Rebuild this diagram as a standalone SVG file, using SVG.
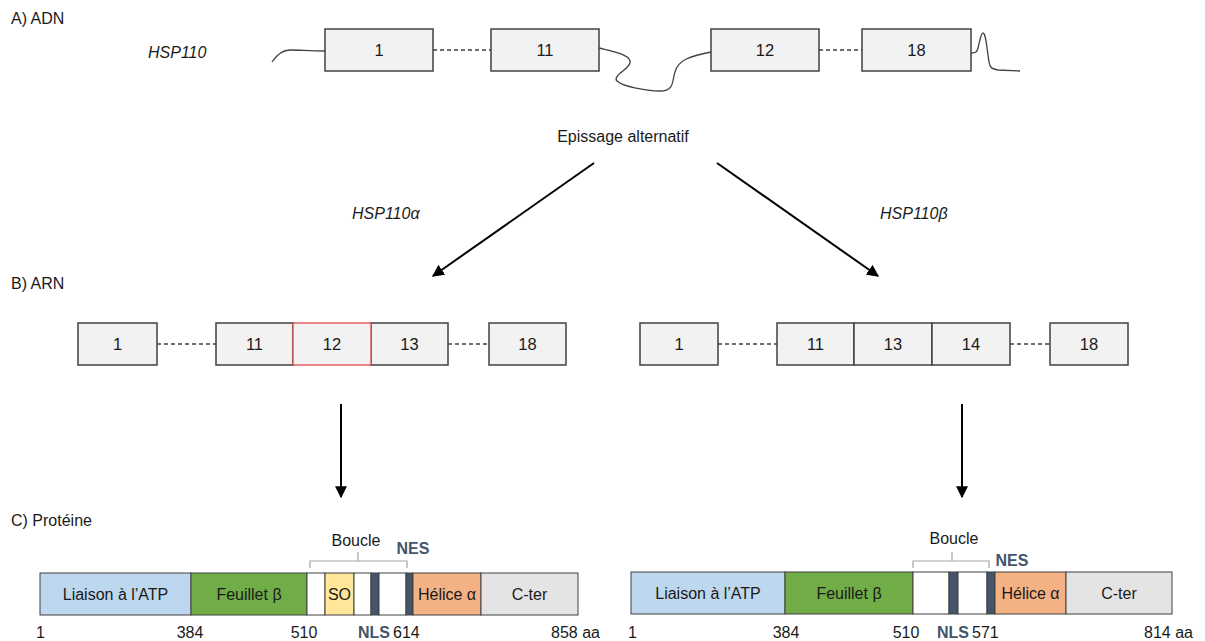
<svg xmlns="http://www.w3.org/2000/svg" width="1205" height="641" viewBox="0 0 1205 641">
<defs>
<style>
text{font-family:"Liberation Sans",Arial,sans-serif;font-size:16px;fill:#1a1a1a}
.c{text-anchor:middle}
.e{text-anchor:end}
.it{font-style:italic}
.num{font-size:16.5px}
.ex{fill:#F2F2F2;stroke:#404040;stroke-width:1.5}
.red{fill:#F2F2F2;stroke:#E03C3C;stroke-width:1.2}
.dash{stroke:#404040;stroke-width:1.4;stroke-dasharray:4 3;fill:none}
.wire{stroke:#404040;stroke-width:1.3;fill:none}
.arr{stroke:#000;stroke-width:2;fill:none;marker-end:url(#ah)}
.seg{stroke:#404040;stroke-width:1}
.dk{fill:#44546A}
.bl{font-weight:bold;fill:#44546A;font-size:16px}
.br{stroke:#A6A6A6;stroke-width:1.2;fill:none}
</style>
<marker id="ah" viewBox="0 0 10 10" refX="9" refY="5" markerWidth="6" markerHeight="6" orient="auto" markerUnits="strokeWidth">
<path d="M0,0 L10,5 L0,10 Z" fill="#000"/>
</marker>
</defs>
<rect width="1205" height="641" fill="#fff"/>

<g id="titles">
<text x="11" y="24">A) ADN</text>
<text x="11" y="289">B) ARN</text>
<text x="11" y="526">C) Protéine</text>
</g>

<g id="connectors">
<path class="wire" d="M272,62 C278,53 284,50 290,50 C300,50 310,51 325,51"/>
<line class="dash" x1="433" y1="50" x2="491" y2="50"/>
<path class="wire" d="M599,48 C615,52 632,55 630,63 C628,70 612,76 617,81 C622,86 645,91 660,91 C675,91 672,80 675,72 C678,60 690,56 711,52"/>
<line class="dash" x1="819" y1="50" x2="862" y2="50"/>
<path class="wire" d="M971,53 C976,53 977,52 978,48 C980,40 981,33 983,33 C986,33 987,50 989,62 C990,68 992,69 998,70 L1020,71"/>
<line class="arr" x1="594" y1="163" x2="433" y2="276"/>
<line class="arr" x1="717" y1="163" x2="878" y2="276"/>
<line class="dash" x1="157" y1="344" x2="216" y2="344"/>
<line class="dash" x1="448" y1="344" x2="489" y2="344"/>
<line class="dash" x1="718" y1="344" x2="777" y2="344"/>
<line class="dash" x1="1010" y1="344" x2="1050" y2="344"/>
<line class="arr" x1="341" y1="404" x2="341" y2="497"/>
<line class="arr" x1="962" y1="404" x2="962" y2="497"/>
</g>

<g id="dna">
<text class="it" x="148" y="58">HSP110</text>
<g id="dna-ex1"><rect class="ex" x="325" y="29" width="108" height="42"/><text class="c num" x="379" y="56">1</text></g>
<g id="dna-ex11"><rect class="ex" x="491" y="29" width="108" height="42"/><text class="c num" x="545" y="56">11</text></g>
<g id="dna-ex12"><rect class="ex" x="711" y="29" width="108" height="42"/><text class="c num" x="765" y="56">12</text></g>
<g id="dna-ex18"><rect class="ex" x="862" y="29" width="109" height="42"/><text class="c num" x="916.5" y="56">18</text></g>
</g>

<g id="splice">
<text class="c" x="623" y="142">Epissage alternatif</text>
<text class="it" x="352" y="219">HSP110α</text>
<text class="it" x="880" y="219">HSP110β</text>
</g>

<g id="rna-alpha">
<g id="ra1"><rect class="ex" x="78" y="323" width="79" height="42"/><text class="c num" x="117.5" y="350">1</text></g>
<g id="ra11"><rect class="ex" x="216" y="323" width="77" height="42"/><text class="c num" x="254.5" y="350">11</text></g>
<g id="ra13"><rect class="ex" x="371" y="323" width="77" height="42"/><text class="c num" x="409.5" y="350">13</text></g>
<g id="ra12"><rect class="red" x="293" y="323" width="78" height="42"/><text class="c num" x="332" y="350">12</text></g>
<g id="ra18"><rect class="ex" x="489" y="323" width="77" height="42"/><text class="c num" x="527.5" y="350">18</text></g>
</g>

<g id="rna-beta">
<g id="rb1"><rect class="ex" x="640" y="323" width="78" height="42"/><text class="c num" x="679" y="350">1</text></g>
<g id="rb11"><rect class="ex" x="777" y="323" width="77" height="42"/><text class="c num" x="815.5" y="350">11</text></g>
<g id="rb13"><rect class="ex" x="854" y="323" width="78" height="42"/><text class="c num" x="893" y="350">13</text></g>
<g id="rb14"><rect class="ex" x="932" y="323" width="78" height="42"/><text class="c num" x="971" y="350">14</text></g>
<g id="rb18"><rect class="ex" x="1050" y="323" width="78" height="42"/><text class="c num" x="1089" y="350">18</text></g>
</g>

<g id="protein-alpha">
<rect class="seg" x="40" y="573" width="151" height="42" fill="#BDD7EE"/>
<rect class="seg" x="191" y="573" width="116" height="42" fill="#70AD47"/>
<rect class="seg" x="307" y="573" width="18" height="42" fill="#fff"/>
<rect class="seg" x="325" y="573" width="29" height="42" fill="#FFE699"/>
<rect class="seg" x="354" y="573" width="17" height="42" fill="#fff"/>
<rect class="seg dk" x="371" y="573" width="8" height="42"/>
<rect class="seg" x="379" y="573" width="27" height="42" fill="#fff"/>
<rect class="seg dk" x="406" y="573" width="7" height="42"/>
<rect class="seg" x="413" y="573" width="68" height="42" fill="#F4B183"/>
<rect class="seg" x="481" y="573" width="97" height="42" fill="#E4E4E4"/>
<text class="c" x="115.5" y="600">Liaison à l’ATP</text>
<text class="c" x="249" y="600">Feuillet β</text>
<text class="c" x="339.5" y="600">SO</text>
<text class="c" x="447" y="600">Hélice α</text>
<text class="c" x="529.5" y="600">C-ter</text>
<path class="br" d="M310,568 L310,561 L358,561 L358,552 M358,561 L407,561 L407,568"/>
<text class="c" x="356" y="546">Boucle</text>
<text class="c bl" x="413" y="554">NES</text>
<text x="36" y="638">1</text>
<text class="c" x="190" y="638">384</text>
<text class="c" x="304" y="638">510</text>
<text class="e bl" x="390" y="638">NLS</text>
<text x="393" y="638">614</text>
<text x="551" y="638">858 aa</text>
</g>

<g id="protein-beta">
<rect class="seg" x="631" y="572" width="154" height="42" fill="#BDD7EE"/>
<rect class="seg" x="785" y="572" width="128" height="42" fill="#70AD47"/>
<rect class="seg" x="913" y="572" width="36" height="42" fill="#fff"/>
<rect class="seg dk" x="949" y="572" width="9" height="42"/>
<rect class="seg" x="958" y="572" width="29" height="42" fill="#fff"/>
<rect class="seg dk" x="987" y="572" width="8" height="42"/>
<rect class="seg" x="995" y="572" width="71" height="42" fill="#F4B183"/>
<rect class="seg" x="1066" y="572" width="106" height="42" fill="#E4E4E4"/>
<text class="c" x="708" y="599">Liaison à l’ATP</text>
<text class="c" x="849" y="599">Feuillet β</text>
<text class="c" x="1030.5" y="599">Hélice α</text>
<text class="c" x="1119" y="599">C-ter</text>
<path class="br" d="M913,568 L913,561 L952,561 L952,552 M952,561 L989,561 L989,568"/>
<text class="c" x="954" y="544">Boucle</text>
<text class="c bl" x="1012" y="566">NES</text>
<text x="628" y="638">1</text>
<text class="c" x="786" y="638">384</text>
<text class="c" x="906" y="638">510</text>
<text class="e bl" x="969" y="638">NLS</text>
<text x="972" y="638">571</text>
<text x="1144" y="638">814 aa</text>
</g>
</svg>
